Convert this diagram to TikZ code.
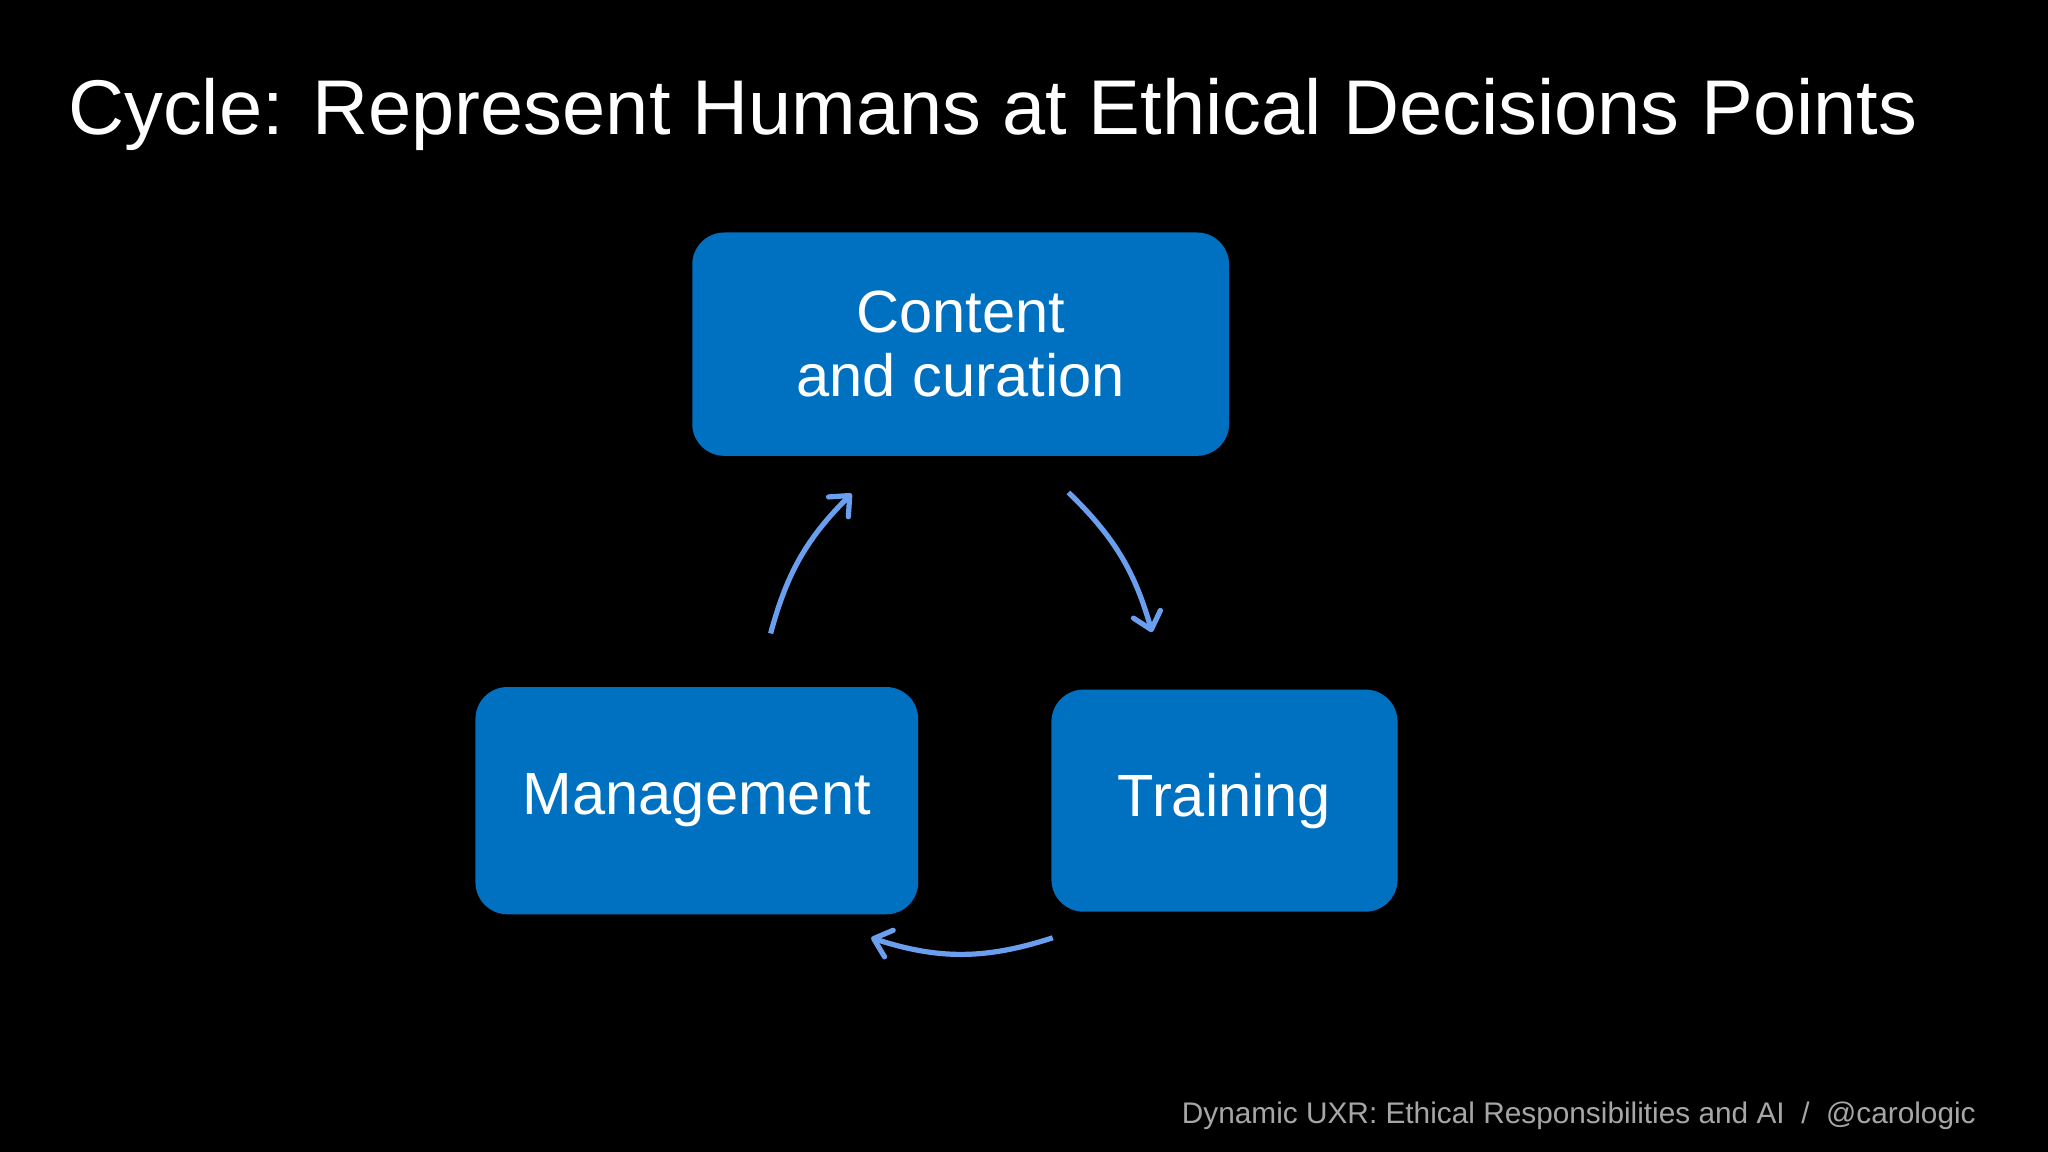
\documentclass[tikz,border=0pt]{standalone}
\usepackage{fontspec}
\setmainfont{Liberation Sans}
\usetikzlibrary{arrows.meta}
\definecolor{boxblue}{HTML}{0070C0}
\definecolor{arrblue}{HTML}{6A9FEF}
\definecolor{foot}{HTML}{A6A6A6}
\begin{document}
\begin{tikzpicture}[x=0.653pt,y=-0.653pt,
  blk/.style={fill=boxblue,rounded corners=16pt,draw=none,text=white,font=\fontsize{29.8}{32}\selectfont,align=center},
  cyc/.style={draw=arrblue,line width=2.6pt,-{Straight Barb[length=8pt,width=14pt,round]}}]
\fill[black] (0,0) rectangle (1568,882);
\useasboundingbox (0,0) rectangle (1568,882);
\node[anchor=base west,text=white,font=\fontsize{38.8}{44}\selectfont,inner sep=0] (title) at (52,103) {Cycle: Represent Humans at Ethical Decisions Points};
\node[blk,minimum width=411*0.653pt,minimum height=171*0.653pt] (c) at (735.5,263.5) {Content\\and curation};
\node[blk,minimum width=339*0.653pt,minimum height=174*0.653pt] (m) at (533.5,613) {Management};
\node[blk,minimum width=265*0.653pt,minimum height=170*0.653pt] (t) at (937.5,613) {Training};
\coordinate (a1s) at (590,485); \coordinate (a1e) at (652,378);
\coordinate (a2s) at (818,377); \coordinate (a2e) at (882,484);
\coordinate (a3s) at (806,718); \coordinate (a3e) at (667,718);
\draw[cyc] (a1s) to[bend left=15] (a1e);
\draw[cyc] (a2s) to[bend left=15] (a2e);
\draw[cyc] (a3s) to[bend left=18] (a3e);
\node[anchor=base east,text=foot,font=\fontsize{14.9}{16}\selectfont,inner sep=0] (ft) at (1513,860) {Dynamic UXR: Ethical Responsibilities and AI~~/~~@carologic};
\end{tikzpicture}
\end{document}
